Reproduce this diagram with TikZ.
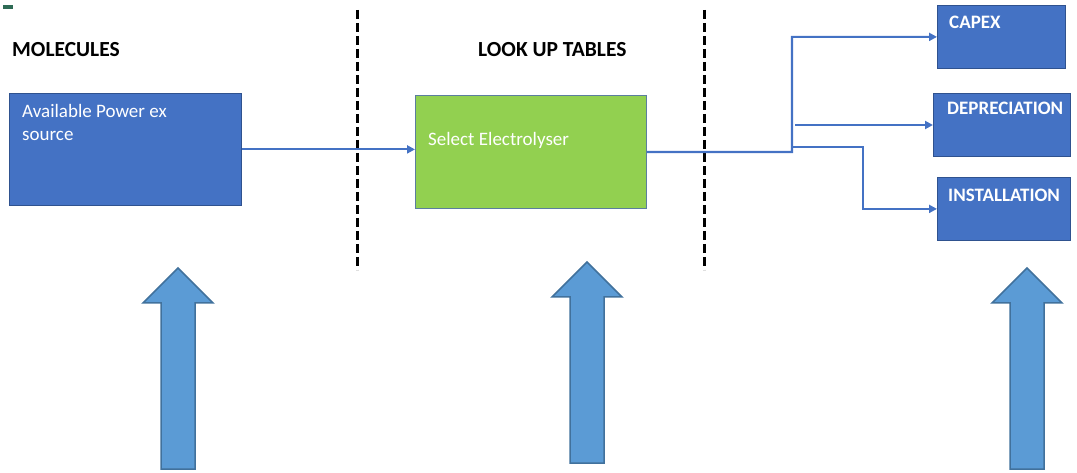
\documentclass[tikz,border=0pt]{standalone}
\usepackage{fontspec}
\setmainfont{Carlito}
\usepackage{xcolor}
\usetikzlibrary{arrows.meta}
\usetikzlibrary{calc}

\definecolor{boxblue}{HTML}{4472C4}
\definecolor{boxedge}{HTML}{2F528F}
\definecolor{selgreen}{HTML}{92D050}
\definecolor{seledge}{HTML}{5B7E9E}
\definecolor{bigblue}{HTML}{5B9BD5}
\definecolor{bigedge}{HTML}{41719C}
\definecolor{markgreen}{HTML}{2E6B55}

\tikzset{
  bluebox/.style={draw=boxedge,line width=0.8pt,fill=boxblue,anchor=north west,inner sep=0},
  greenbox/.style={draw=seledge,line width=1.2pt,fill=selgreen,anchor=north west,inner sep=0},
  heading/.style={font=\fontsize{21.5}{24}\selectfont\bfseries,anchor=base west,inner sep=0},
  boxtext/.style={font=\fontsize{19}{23}\selectfont,text=white,anchor=base west,inner sep=0,align=left},
  flow/.style={boxblue,line width=2.2pt,-{Triangle[length=8pt,width=8pt]}},
  divider/.style={line width=3pt,dash pattern=on 9pt off 4pt}
}

\begin{document}
\begin{tikzpicture}[x=1pt,y=-1pt]
\useasboundingbox (0,0) rectangle (1077,473);

\fill[markgreen] (3,5) rectangle (13,9);

\node[heading] (molecules) at (12,57) {MOLECULES};
\node[heading] (lookup) at (478,57) {LOOK UP TABLES};

\draw[divider] (357,10) -- (357,270);
\draw[divider] (704,10) -- (704,270);

\node[bluebox,minimum width=232,minimum height=112] (source) at (9,93) {};
\node[boxtext] (sourcetext) at (22,141) {Available Power ex\\source};

\node[greenbox,minimum width=231,minimum height=113] (select) at (415,95) {};
\node[boxtext] (selecttext) at (428,146) {Select Electrolyser};

\node[bluebox,minimum width=128,minimum height=63] (capex) at (937,5) {};
\node[boxtext,font=\fontsize{19}{22}\selectfont\bfseries] (capextext) at (949,29) {CAPEX};
\node[bluebox,minimum width=137,minimum height=63] (deprec) at (933,93) {};
\node[boxtext,font=\fontsize{19}{22}\selectfont\bfseries] (deprectext) at (947,115) {DEPRECIATION};
\node[bluebox,minimum width=133,minimum height=63] (install) at (937,177) {};
\node[boxtext,font=\fontsize{19}{22}\selectfont\bfseries] (installtext) at (948,202) {INSTALLATION};

\coordinate (fork) at (792,152);
\coordinate (mid) at (795,125);
\coordinate (low) at (792,147);

\draw[flow] (source.east) -- (source.east -| select.west);
\draw[flow] (select.east) -- (fork) |- (capex.west);
\draw[flow] (mid) -- (mid -| deprec.west);
\draw[flow] (low) -- ++(71,0) |- (install.west);

\foreach \x/\t in {178/268,587/262,1027/268}
  \filldraw[fill=bigblue,draw=bigedge,line width=1.5pt]
    (\x,\t) -- (\x+35,\t+35) -- (\x+17,\t+35) -- (\x+17,\t+201)
    -- (\x-17,\t+201) -- (\x-17,\t+35) -- (\x-35,\t+35) -- cycle;
\end{tikzpicture}
\end{document}
